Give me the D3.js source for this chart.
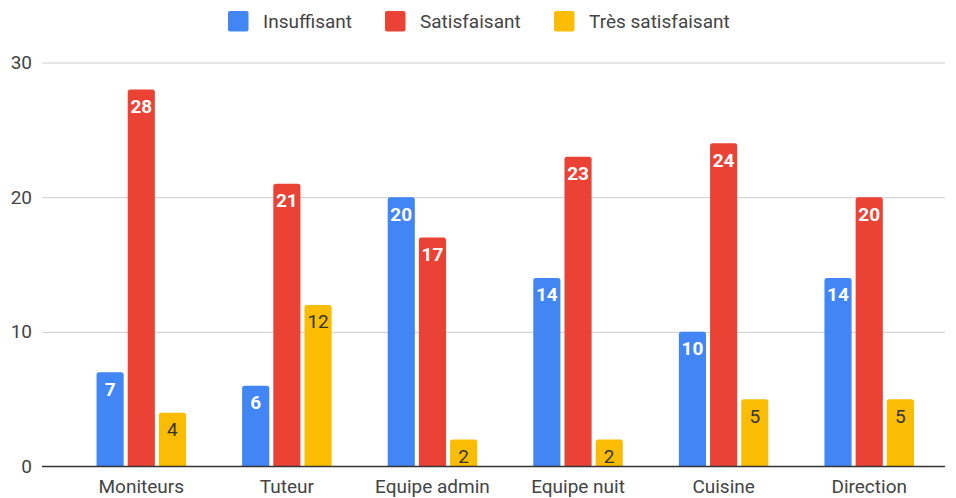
<!DOCTYPE html>
<html>
<head>
<meta charset="utf-8">
<script src="https://cdn.jsdelivr.net/npm/d3@7"></script>
<style>
  body { margin: 0; background: #fff; }
  svg { font-family: Roboto, Arial, sans-serif; }
</style>
</head>
<body>
<div id="viz"></div>
<script>
// data
const categories = ["Moniteurs", "Tuteur", "Equipe admin", "Equipe nuit", "Cuisine", "Direction"]
const seriesNames = ["Insuffisant", "Satisfaisant", "Très satisfaisant"]
const insuffisant = [7, 6, 20, 14, 10, 14]
const satisfaisant = [28, 21, 17, 23, 24, 20]
const tresSatisfaisant = [4, 12, 2, 2, 5, 5]
const yTicks = [0, 10, 20, 30]

const colors = ["#4285F4", "#EA4335", "#FBBC04"]
const labelColors = ["#fff", "#fff", "#333"]
const seriesValues = [insuffisant, satisfaisant, tresSatisfaisant]

const width = 956, height = 498
const gridLeft = 42, gridRight = 945
const x0Left = 68.5, x0Right = 942
const yTop = 62.5, yBottom = 466.5

const svg = d3.select("#viz").append("svg")
    .attr("width", width)
    .attr("height", height)

const x0 = d3.scaleBand()
  .domain(categories)
  .range([x0Left, x0Right])
  .paddingInner(0)
  .paddingOuter(0)

const groupWidth = 89.5
const x1 = d3.scaleBand()
  .domain(seriesNames)
  .range([0, groupWidth])
  .paddingInner(0.13)

const y = d3.scaleLinear()
  .domain([0, 30])
  .range([yBottom, yTop])

// gridlines
svg.append("g").selectAll("line")
  .data(yTicks.filter(d => d > 0))
  .join("line")
    .attr("x1", gridLeft).attr("x2", gridRight)
    .attr("y1", d => y(d) + 0.5).attr("y2", d => y(d) + 0.5)
    .attr("stroke", "#ccc")
    .attr("stroke-width", 1)

// y tick labels
svg.append("g").selectAll("text")
  .data(yTicks)
  .join("text")
    .attr("x", 32)
    .attr("y", d => y(d))
    .attr("dy", "0.35em")
    .attr("text-anchor", "end")
    .attr("fill", "#444")
    .style("font-size", "19px")
    .text(d => d)

// bars
const rows = categories.map((c, i) => ({
  category: c,
  values: seriesNames.map((s, j) => ({ series: s, idx: j, value: seriesValues[j][i] }))
}))

const groups = svg.append("g").selectAll("g")
  .data(rows)
  .join("g")
    .attr("transform", d => `translate(${x0(d.category) + (x0.bandwidth() - groupWidth) / 2},0)`)

const r = 2.5
groups.selectAll("path")
  .data(d => d.values)
  .join("path")
    .attr("fill", d => colors[d.idx])
    .attr("d", d => {
      const bx = x1(d.series), bw = x1.bandwidth()
      const top = y(d.value), bottom = y(0)
      return `M${bx},${bottom}V${top + r}Q${bx},${top} ${bx + r},${top}H${bx + bw - r}Q${bx + bw},${top} ${bx + bw},${top + r}V${bottom}Z`
    })

// data labels
groups.selectAll("text")
  .data(d => d.values)
  .join("text")
    .attr("x", d => x1(d.series) + x1.bandwidth() / 2)
    .attr("y", d => y(d.value) + 23.5)
    .attr("text-anchor", "middle")
    .attr("fill", d => labelColors[d.idx])
    .style("font-size", "19px")
    .style("font-weight", d => d.idx === 2 ? "normal" : "bold")
    .text(d => d.value)

// baseline
svg.append("line")
  .attr("x1", gridLeft).attr("x2", gridRight)
  .attr("y1", y(0)).attr("y2", y(0))
  .attr("stroke", "#333")
  .attr("stroke-width", 1.3)

// category labels
svg.append("g").selectAll("text")
  .data(categories)
  .join("text")
    .attr("x", d => x0(d) + x0.bandwidth() / 2)
    .attr("y", 493)
    .attr("text-anchor", "middle")
    .attr("fill", "#444")
    .style("font-size", "19px")
    .text(d => d)

// legend
const legendX = [228, 385, 554]
const legend = svg.append("g").selectAll("g")
  .data(seriesNames)
  .join("g")
    .attr("transform", (d, i) => `translate(${legendX[i]},11)`)
legend.append("rect")
    .attr("width", 20.5).attr("height", 20.5)
    .attr("rx", 2)
    .attr("fill", (d, i) => colors[i])
legend.append("text")
    .attr("x", 35)
    .attr("y", 10.5)
    .attr("dy", "0.35em")
    .attr("fill", "#444")
    .style("font-size", "19px")
    .text(d => d)
</script>
</body>
</html>
